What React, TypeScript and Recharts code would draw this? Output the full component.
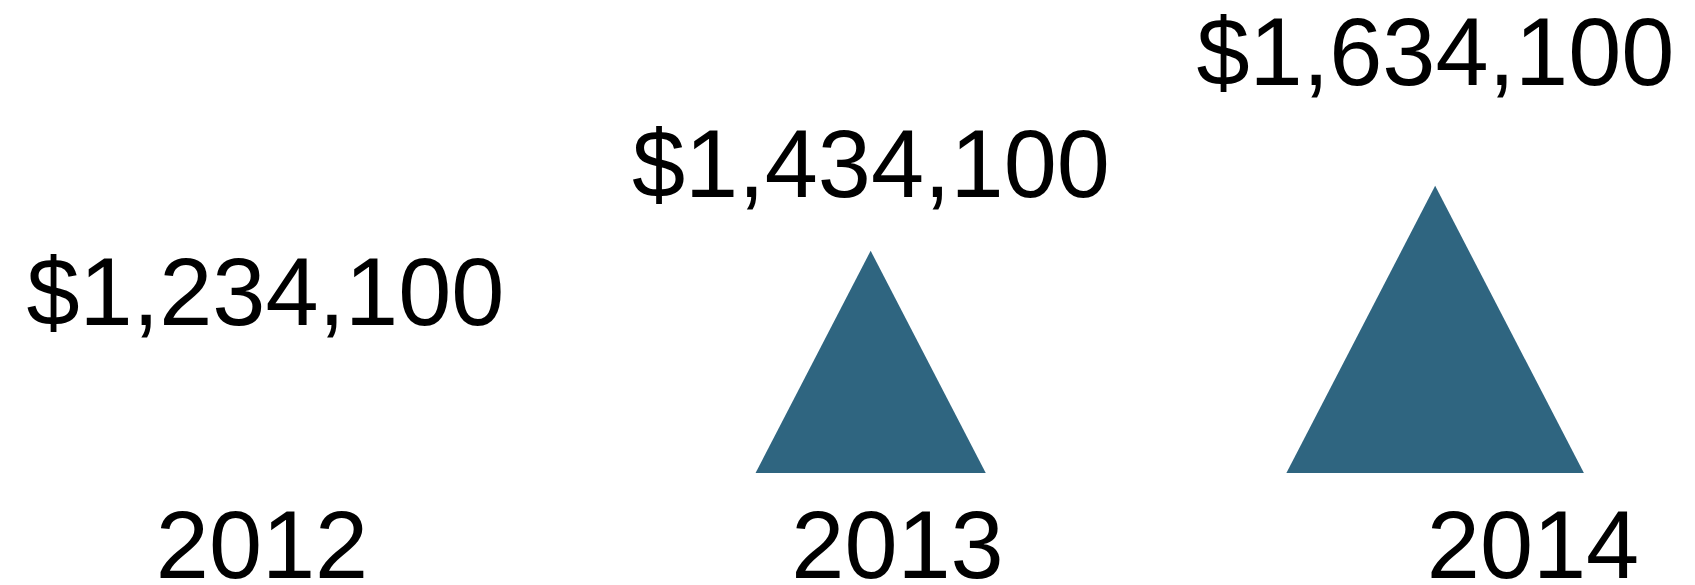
import React from 'react';
import { ComposedChart, Bar, Line, XAxis, YAxis, LabelList } from 'recharts';

// ---- data ----
const years = ['2012', '2013', '2014'];
const revenue = [1234100, 1434100, 1634100];

// a triangle is drawn for a year whose revenue rose over the year before
const data = years.map((year, i) => ({
  year,
  value: revenue[i],
  up: i > 0 && revenue[i] > revenue[i - 1],
}));

// ---- style ----
const COLOR = '#2f6580';
const FONT = '"Liberation Sans", Arial, Helvetica, sans-serif';
const FS = 95.5;

const fmt = (v: number) => '$' + Number(v).toLocaleString('en-US');

const Triangle = (props: any) => {
  const { x, y, width, height, payload } = props;
  const up = payload && payload.up !== undefined ? payload.up : props.up;
  if (!up || !(height > 0)) return null;
  const cx = x + width / 2;
  const half = height * 0.518;
  const base = y + height;
  return <path d={`M${cx},${y}L${cx + half},${base}L${cx - half},${base}Z`} fill={COLOR} />;
};

const YearTick = (props: any) => {
  const { x, y, payload } = props;
  return (
    <text x={x} y={y + 75} textAnchor="middle" fontSize={FS} fontFamily={FONT} fill="#000">
      {payload.value}
    </text>
  );
};

const ValueLabel = (props: any) => {
  const { x, y, value } = props;
  return (
    <text x={x} y={y} textAnchor="middle" fontSize={FS} fontFamily={FONT} fill="#000">
      {fmt(value)}
    </text>
  );
};

export default function App() {
  return (
    <div style={{ position: 'absolute', left: 0, top: 0, background: '#fff' }}>
      <ComposedChart
        width={1695}
        height={585}
        data={data}
        margin={{ top: 2, right: 162, left: 262, bottom: 0 }}
      >
        <XAxis
          xAxisId="year"
          dataKey="year"
          type="category"
          scale="point"
          height={112}
          axisLine={false}
          tickLine={false}
          tickSize={0}
          tickMargin={0}
          interval={0}
          tick={<YearTick />}
        />
        <XAxis
          xAxisId="pos"
          dataKey="value"
          type="number"
          scale="sqrt"
          domain={[1233000, 1670000]}
          hide
        />
        <YAxis yAxisId="tri" type="number" domain={[750000, 2200000]} hide />
        <YAxis yAxisId="label" type="number" scale="log" domain={[1037000, 1802000]} hide />
        <Bar
          xAxisId="pos"
          yAxisId="tri"
          dataKey="value"
          barSize={10}
          shape={<Triangle />}
          isAnimationActive={false}
        />
        <Line
          xAxisId="pos"
          yAxisId="label"
          dataKey="value"
          stroke="none"
          dot={false}
          activeDot={false}
          isAnimationActive={false}
        >
          <LabelList dataKey="value" content={<ValueLabel />} />
        </Line>
      </ComposedChart>
    </div>
  );
}
